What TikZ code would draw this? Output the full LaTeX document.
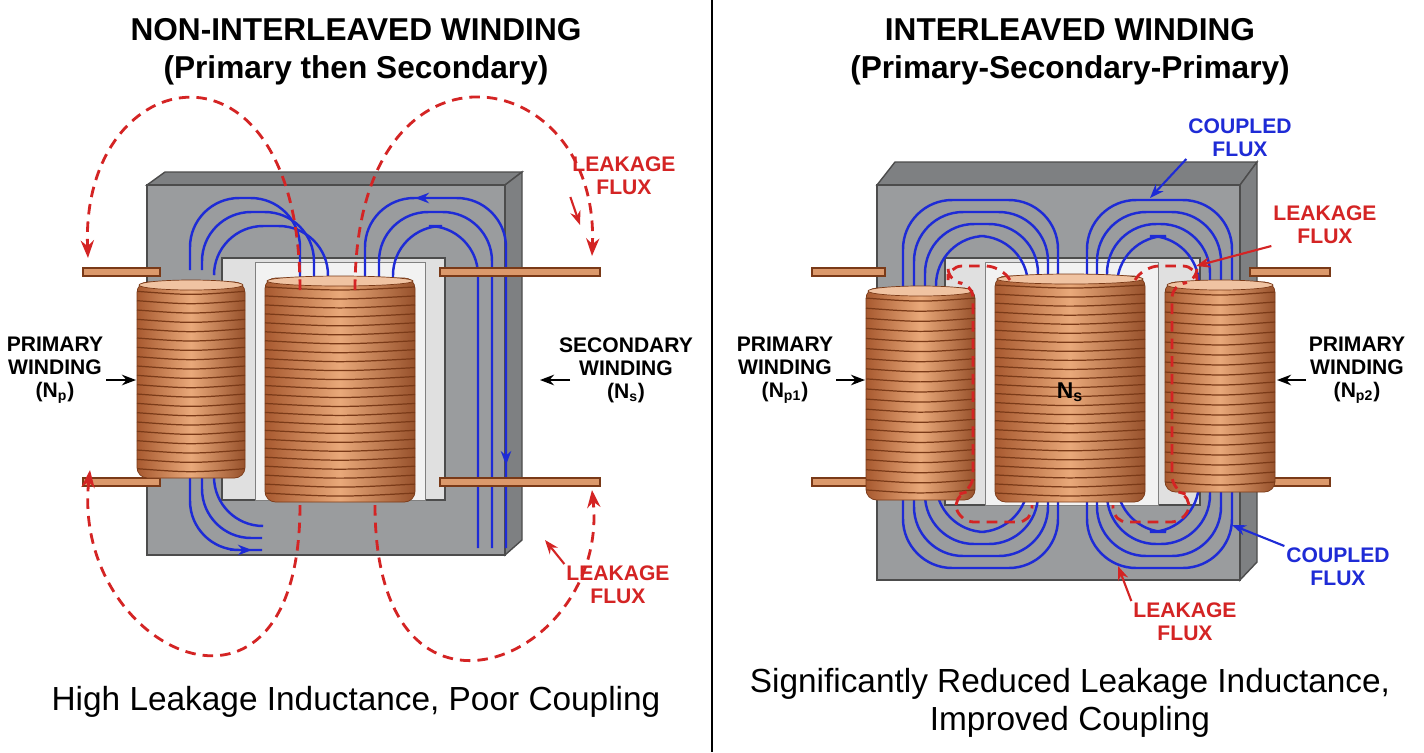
\documentclass[tikz,border=0pt]{standalone}
\usepackage{fontspec}
\setmainfont{Liberation Sans}
\usetikzlibrary{arrows.meta}
\definecolor{coredark}{HTML}{7E8082}
\definecolor{coremid}{HTML}{9A9C9E}
\definecolor{copperdark}{HTML}{A85A30}
\definecolor{copperlight}{HTML}{E9A97A}
\definecolor{copperline}{HTML}{7A3A18}
\definecolor{fluxblue}{HTML}{1E2BD6}
\definecolor{fluxred}{HTML}{D42424}
\tikzset{core/.style={fill=coremid,draw=black!70,line width=0.8pt}}
\tikzset{coreside/.style={fill=coredark,draw=black!70,line width=0.8pt}}
\tikzset{win/.style={fill=black!12,draw=black!70,line width=0.8pt}}
\tikzset{wire/.style={draw=copperline,fill=copperlight!80!copperdark,line width=0.6pt}}
\tikzset{flux/.style={fluxblue,line width=1.4pt,rounded corners=28}}
\tikzset{leak/.style={fluxred,line width=1.6pt,dashed,dash pattern=on 6pt off 4pt}}
\tikzset{tag/.style={font=\bfseries\fontsize{12}{13}\selectfont,align=center,inner sep=1pt}}
\tikzset{tip/.style={-{Stealth[length=8pt,width=6pt]},line width=1.2pt}}
\newcommand\coil[5]{%
  \shade[left color=copperdark,right color=copperdark!90!black,middle color=copperlight,rounded corners=6,draw=copperline] (#1,#2) rectangle (#3,#4);
  \foreach \k in {1,...,#5}{%
    \pgfmathsetmacro\yy{#2+(#4-#2)*\k/(#5+1)}
    \draw[copperline,line width=0.7pt] (#1,\yy) .. controls ({(#1+#3)/2},\yy+4) .. (#3,\yy);}
  \draw[copperline,fill=copperlight!70!white] ({(#1+#3)/2},#2+3) ellipse ({(#3-#1)/2-2} and 5);}

\begin{document}
\begin{tikzpicture}[x=0.02cm,y=-0.02cm]
\useasboundingbox (0,0) rectangle (1424,752);
\fill[white] (0,0) rectangle (1424,752);
\draw[line width=1.4pt] (712,0) -- (712,752);

% ---------- left: non-interleaved ----------
\node[font=\bfseries\fontsize{18}{20}\selectfont] (ltitle) at (356,30) {NON-INTERLEAVED WINDING};
\node[font=\bfseries\fontsize{18}{20}\selectfont] (lsub) at (356,70) {(Primary then Secondary)};
% core
\draw[coreside] (147,185) -- (165,172) -- (522,172) -- (505,185) -- cycle;
\draw[coreside] (505,185) -- (522,172) -- (522,540) -- (505,555) -- cycle;
\draw[core] (147,185) rectangle (505,555);
\draw[win] (222,258) rectangle (445,500);
\draw[fill=black!5,draw=black!50] (255,262) rectangle (425,500);
% flux
\foreach \i in {0,1,2}{
  \draw[flux] (300+14*\i,295) -- (300+14*\i,198+14*\i) -- (190+12*\i,198+14*\i) -- (190+12*\i,270);
  \draw[flux] (365+14*\i,295) -- (365+14*\i,198+14*\i) -- (506-14*\i,198+14*\i) -- (506-14*\i,548);
  \draw[flux] (190+12*\i,470) -- (190+12*\i,550-12*\i) -- (262,550-12*\i);}
\draw[fluxblue,tip] (440,198) -- (415,198);
\draw[fluxblue,tip] (506,430) -- (506,465);
\draw[fluxblue,tip] (230,550) -- (252,550);
% coils and leads
\draw[wire] (83,268) rectangle (160,276);
\draw[wire] (83,478) rectangle (160,486);
\draw[wire] (440,268) rectangle (600,276);
\draw[wire] (440,478) rectangle (600,486);
\coil{137}{282}{245}{478}{20}
\coil{265}{278}{415}{502}{24}
% leakage
\draw[leak,-{Stealth[length=10pt]}] (300,290) .. controls (300,20) and (80,60) .. (88,258);
\draw[leak,-{Stealth[length=10pt]}] (355,290) .. controls (355,20) and (600,60) .. (592,256);
\draw[leak,-{Stealth[length=10pt]}] (300,505) .. controls (300,760) and (70,650) .. (90,470);
\draw[leak,-{Stealth[length=10pt]}] (375,505) .. controls (375,760) and (610,660) .. (592,490);
% labels
\node[tag,fluxred] (lleak1) at (624,176) {LEAKAGE\\FLUX};
\coordinate (lleak1e) at (580,225);
\draw[tip,fluxred] (lleak1.south west) -- (lleak1e);
\node[tag,fluxred] (lleak2) at (618,585) {LEAKAGE\\FLUX};
\coordinate (lleak2e) at (545,540);
\draw[tip,fluxred] (lleak2.north west) -- (lleak2e);
\node[tag] (lprim) at (55,370) {PRIMARY\\WINDING\\(N\textsubscript{p})};
\coordinate (lprime) at (136,380);
\draw[tip] (106,380) -- (lprime);
\node[tag] (lsec) at (626,370) {SECONDARY\\WINDING\\(N\textsubscript{s})};
\coordinate (lsece) at (540,380);
\draw[tip] (570,380) -- (lsece);
\node[font=\fontsize{19}{22}\selectfont] (lcap) at (356,702) {High Leakage Inductance, Poor Coupling};

% ---------- right: interleaved ----------
\node[font=\bfseries\fontsize{18}{20}\selectfont] (rtitle) at (1070,30) {INTERLEAVED WINDING};
\node[font=\bfseries\fontsize{18}{20}\selectfont] (rsub) at (1070,70) {(Primary-Secondary-Primary)};
\draw[coreside] (877,185) -- (895,162) -- (1257,162) -- (1240,185) -- cycle;
\draw[coreside] (1240,185) -- (1257,162) -- (1257,562) -- (1240,580) -- cycle;
\draw[core] (877,185) rectangle (1240,580);
\draw[win] (945,258) rectangle (1200,505);
\draw[fill=black!5,draw=black!50] (985,262) rectangle (1158,505);
\foreach \i in {0,...,3}{
  \draw[flux] (1058-10*\i,290) -- (1058-10*\i,200+12*\i) -- (903+11*\i,200+12*\i) -- (903+11*\i,568-12*\i) -- (1058-10*\i,568-12*\i) -- (1058-10*\i,480);
  \draw[flux] (1087+10*\i,290) -- (1087+10*\i,200+12*\i) -- (1232-11*\i,200+12*\i) -- (1232-11*\i,568-12*\i) -- (1087+10*\i,568-12*\i) -- (1087+10*\i,480);}
\draw[wire] (812,268) rectangle (885,276);
\draw[wire] (812,478) rectangle (885,486);
\draw[wire] (1250,268) rectangle (1330,276);
\draw[wire] (1250,478) rectangle (1330,486);
\coil{866}{288}{975}{500}{20}
\coil{995}{276}{1145}{502}{24}
\coil{1165}{282}{1275}{492}{20}
\draw[leak,rounded corners=8] (1010,280) -- (1000,266) -- (948,266) -- (948,282) -- (973,284) -- (973,490) -- (953,496) -- (960,522) -- (1032,522) -- (1032,505);
\draw[leak,rounded corners=8] (1135,280) -- (1145,266) -- (1197,266) -- (1197,282) -- (1172,284) -- (1172,490) -- (1192,496) -- (1185,522) -- (1113,522) -- (1113,505);
\node[font=\bfseries\fontsize{13}{14}\selectfont] (ns) at (1070,392) {N\textsubscript{s}};
\node[tag,fluxblue] (rcoup1) at (1240,138) {COUPLED\\FLUX};
\coordinate (rcoup1e) at (1150,198);
\draw[tip,fluxblue] (rcoup1.south west) -- (rcoup1e);
\node[tag,fluxred] (rleak1) at (1325,225) {LEAKAGE\\FLUX};
\coordinate (rleak1e) at (1196,266);
\draw[tip,fluxred] (rleak1.south west) -- (rleak1e);
\node[tag,fluxblue] (rcoup2) at (1338,567) {COUPLED\\FLUX};
\coordinate (rcoup2e) at (1232,525);
\draw[tip,fluxblue] (rcoup2.north west) -- (rcoup2e);
\node[tag,fluxred] (rleak2) at (1185,622) {LEAKAGE\\FLUX};
\coordinate (rleak2e) at (1118,566);
\draw[tip,fluxred] (rleak2.north west) -- (rleak2e);
\node[tag] (rprim1) at (785,370) {PRIMARY\\WINDING\\(N\textsubscript{p1})};
\coordinate (rprim1e) at (865,380);
\draw[tip] (836,380) -- (rprim1e);
\node[tag] (rprim2) at (1357,370) {PRIMARY\\WINDING\\(N\textsubscript{p2})};
\coordinate (rprim2e) at (1277,380);
\draw[tip] (1306,380) -- (rprim2e);
\node[font=\fontsize{19}{22}\selectfont,align=center] (rcap) at (1070,703) {Significantly Reduced Leakage Inductance,\\Improved Coupling};
\end{tikzpicture}
\end{document}
